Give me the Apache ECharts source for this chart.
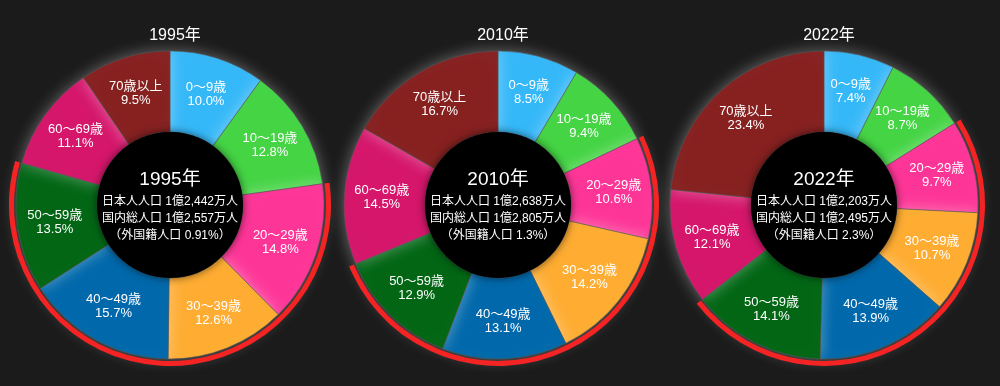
<!DOCTYPE html>
<html><head><meta charset="utf-8">
<script src="https://cdn.jsdelivr.net/npm/echarts@6/dist/echarts.min.js"></script>
<style>html,body{margin:0;padding:0;background:#1b1b1b}#c{width:1000px;height:386px}</style>
</head><body><div id="c"></div>
<script>
const ageGroups = ['0〜9歳','10〜19歳','20〜29歳','30〜39歳','40〜49歳','50〜59歳','60〜69歳','70歳以上'];
const years = ['1995年','2010年','2022年'];
const share1995 = [10.0,12.8,14.8,12.6,15.7,13.5,11.1,9.5];
const share2010 = [8.5,9.4,10.6,14.2,13.1,12.9,14.5,16.7];
const share2022 = [7.4,8.7,9.7,10.7,13.9,14.1,12.1,23.4];
const japanesePop = ['1億2,442万人','1億2,638万人','1億2,203万人'];
const totalPop = ['1億2,557万人','1億2,805万人','1億2,495万人'];
const foreignShare = ['0.91%','1.3%','2.3%'];
const workingGroups = [2,5]; // 20〜29歳 … 50〜59歳 highlighted by red arc

const colors = ['#35b8f8','#44d444','#fd3597','#fead32','#0068ab','#026615','#d5166b','#862120'];
const shares = [share1995, share2010, share2022];
const centersX = ['17%','49.8%','82.4%'];
const cy = 205;
const font = '"Liberation Sans", "Noto Sans CJK JP", sans-serif';

const series = [];
const titles = [];
shares.forEach((vals, i) => {
  const c = [centersX[i], cy];
  titles.push({text: years[i], left: centersX[i], top: 23, textAlign: 'center',
    textStyle: {color: '#fff', fontSize: 16, fontWeight: 'normal', fontFamily: font}});
  series.push({
    type: 'pie', center: c, radius: [73, 154], startAngle: 90, clockwise: true,
    silent: true, animation: false,
    itemStyle: {borderColor: '#555', borderWidth: 0.6, shadowBlur: 16, shadowColor: 'rgba(255,255,255,0.35)'},
    label: {position: 'inside', color: '#fff', fontSize: 13, fontFamily: font, lineHeight: 14,
      formatter: p => p.name + '\n' + p.value.toFixed(1) + '%'},
    labelLine: {show: false},
    data: vals.map((v, k) => ({name: ageGroups[k], value: v, itemStyle: {color: colors[k]}}))
  });
  const before = vals.slice(0, workingGroups[0]).reduce((a,b)=>a+b,0);
  const mid = vals.slice(workingGroups[0], workingGroups[1]+1).reduce((a,b)=>a+b,0);
  const after = vals.slice(workingGroups[1]+1).reduce((a,b)=>a+b,0);
  series.push({
    type: 'pie', center: c, radius: [156, 161], startAngle: 90, silent: true, animation: false,
    label: {show: false}, labelLine: {show: false},
    data: [
      {value: before, itemStyle: {color: 'transparent'}},
      {value: mid, itemStyle: {color: '#f52424'}},
      {value: after, itemStyle: {color: 'transparent'}}
    ]
  });
  series.push({
    type: 'pie', center: c, radius: [0, 73], silent: true, animation: false, z: 5,
    itemStyle: {color: '#000', shadowBlur: 8, shadowColor: 'rgba(0,0,0,0.6)'},
    label: {position: 'center', fontFamily: font, color: '#fff',
      formatter: '{t|' + years[i] + '}\n{s|日本人人口 ' + japanesePop[i] + '}\n{s|国内総人口 ' + totalPop[i] + '}\n{s|（外国籍人口 ' + foreignShare[i] + '）}',
      rich: {t: {fontSize: 19, color: '#fff', lineHeight: 27, fontFamily: font},
             s: {fontSize: 12, color: '#fff', lineHeight: 17, fontFamily: font}}},
    labelLine: {show: false},
    data: [{value: 1, name: years[i]}]
  });
});

const chart = echarts.init(document.getElementById('c'));
chart.setOption({backgroundColor: '#1b1b1b', title: titles, series: series});
</script></body></html>
